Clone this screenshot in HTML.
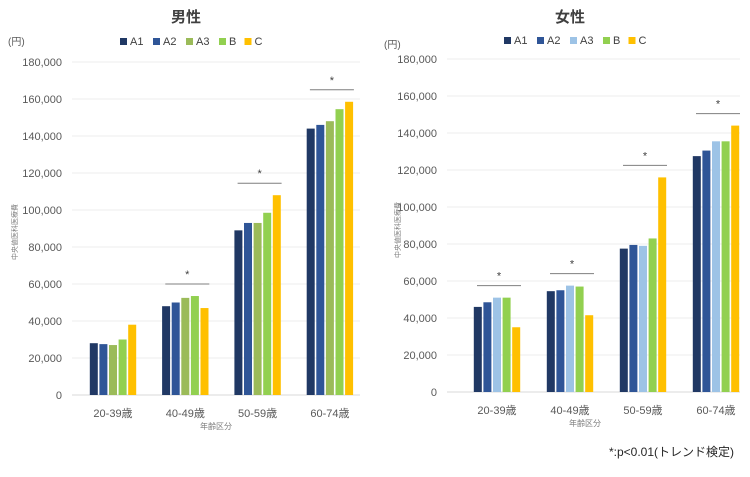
<!DOCTYPE html>
<html><head><meta charset="utf-8">
<style>
body{margin:0;background:#fff;font-family:"Liberation Sans","Noto Sans CJK JP",sans-serif;}
svg text{font-family:"Liberation Sans","Noto Sans CJK JP",sans-serif;}
</style></head>
<body>
<svg id="c" width="750" height="472" viewBox="0 0 750 472" xmlns="http://www.w3.org/2000/svg"></svg>
<script>
const categories = ["20-39歳","40-49歳","50-59歳","60-74歳"];
const seriesNames = ["A1","A2","A3","B","C"];
const maleA1 = [28000,48000,89000,144000];
const maleA2 = [27500,50000,93000,146000];
const maleA3 = [27000,52500,93000,148000];
const maleB  = [30000,53500,98500,154500];
const maleC  = [38000,47000,108000,158500];
const femaleA1 = [46000,54500,77500,127500];
const femaleA2 = [48500,55000,79500,130500];
const femaleA3 = [51000,57500,79000,135500];
const femaleB  = [51000,57000,83000,135500];
const femaleC  = [35000,41500,116000,144000];
const yTicks = [0,20000,40000,60000,80000,100000,120000,140000,160000,180000];
const maleSig = [false,true,true,true];
const femaleSig = [true,true,true,true];

const NS="http://www.w3.org/2000/svg";
const svg=document.getElementById('c');
function el(tag,attrs,parent){const e=document.createElementNS(NS,tag);for(const k in attrs)e.setAttribute(k,attrs[k]);(parent||svg).appendChild(e);return e;}

function drawChart(cfg){
  const g=el('g',{});
  
  
  const y=v=>cfg.y0-(v/180000)*(cfg.y0-cfg.yTop);
  const xc=i=>cfg.x0+cfg.step*i;
  yTicks.forEach(t=>{
    const l=el('line',{x1:cfg.gx1,x2:cfg.gx2,y1:y(t),y2:y(t),stroke:t===0?'#d9d9d9':'#ededed','stroke-width':1},g);
    
    
    const tx=el('text',{x:cfg.gx1-10,y:y(t)+4,'text-anchor':'end','font-size':11,fill:'#595959'},g);
    tx.textContent=t.toLocaleString('en-US');
    
    
  });
  const bw=8, gap=9.6;
  cfg.series.forEach((s,si)=>{
    s.forEach((v,ci)=>{
      const x=xc(ci)+(si-2)*gap-bw/2;
      const r=el('rect',{x:x,y:y(v),width:bw,height:y(0)-y(v),fill:cfg.colors[si]},g);
      
      
    });
  });
  categories.forEach((c,ci)=>{
    const t=el('text',{x:xc(ci),y:cfg.y0+22,'text-anchor':'middle','font-size':11,fill:'#595959'},g);
    t.textContent=c;
    
    
    if(cfg.sig[ci]){
      const mx=Math.max(...cfg.series.map(s=>s[ci]));
      const ly=y(mx)-cfg.sigOff;
      const ln=el('line',{x1:xc(ci)-20,x2:xc(ci)+24,y1:ly,y2:ly,stroke:'#7f7f7f','stroke-width':1},g);
      
      
      const st=el('text',{x:xc(ci)+2,y:ly-6,'text-anchor':'middle','font-size':11,fill:'#404040'},g);
      st.textContent='*';
      
      
    }
  });
  const ti=el('text',{x:cfg.titleX,y:22,'text-anchor':'middle','font-size':15,'font-weight':'bold',fill:'#404040'},g);
  ti.textContent=cfg.title;
  
  
  const un=el('text',{x:cfg.unitX,y:cfg.unitY,'font-size':10,fill:'#595959'},g);
  un.textContent='(円)';
  
  
  let lx=cfg.legX;
  seriesNames.forEach((n,si)=>{
    const r=el('rect',{x:lx,y:cfg.legY-7,width:7,height:7,fill:cfg.colors[si]},g);
    
    
    const t=el('text',{x:lx+10,y:cfg.legY,'font-size':11,fill:'#404040'},g);
    t.textContent=n;
    
    
    lx+=10+n.length*7.5+8;
  });
  const xt=el('text',{x:cfg.xtX,y:cfg.y0+34,'text-anchor':'middle','font-size':8,fill:'#7f7f7f'},g);
  xt.textContent='年齢区分';
  
  
  const yt=el('text',{x:0,y:0,'text-anchor':'middle','font-size':7,fill:'#7f7f7f',transform:`translate(${cfg.ytX},${cfg.ytY}) rotate(-90)`},g);
  yt.textContent='中央値医科医療費';
  
  
}
drawChart({name:'male-chart',title:'男性',titleX:186,unitX:8,unitY:45,legX:120,legY:45,
  y0:395,yTop:62,gx1:72,gx2:360,x0:113,step:72.3,sig:maleSig,sigOff:12,xtX:216,ytX:17,ytY:232,
  colors:['#203864','#2f5597','#9bbb59','#92d050','#ffc000'],
  series:[maleA1,maleA2,maleA3,maleB,maleC]});
drawChart({name:'female-chart',title:'女性',titleX:570,unitX:384,unitY:48,legX:504,legY:44,
  y0:392,yTop:59,gx1:447,gx2:740,x0:497,step:73,sig:femaleSig,sigOff:12,xtX:585,ytX:400,ytY:230,
  colors:['#203864','#2f5597','#9dc3e6','#92d050','#ffc000'],
  series:[femaleA1,femaleA2,femaleA3,femaleB,femaleC]});
const fn=el('text',{x:734,y:456,'text-anchor':'end','font-size':12,fill:'#262626'});
fn.textContent='*:p<0.01(トレンド検定)';


</script>
</body></html>
